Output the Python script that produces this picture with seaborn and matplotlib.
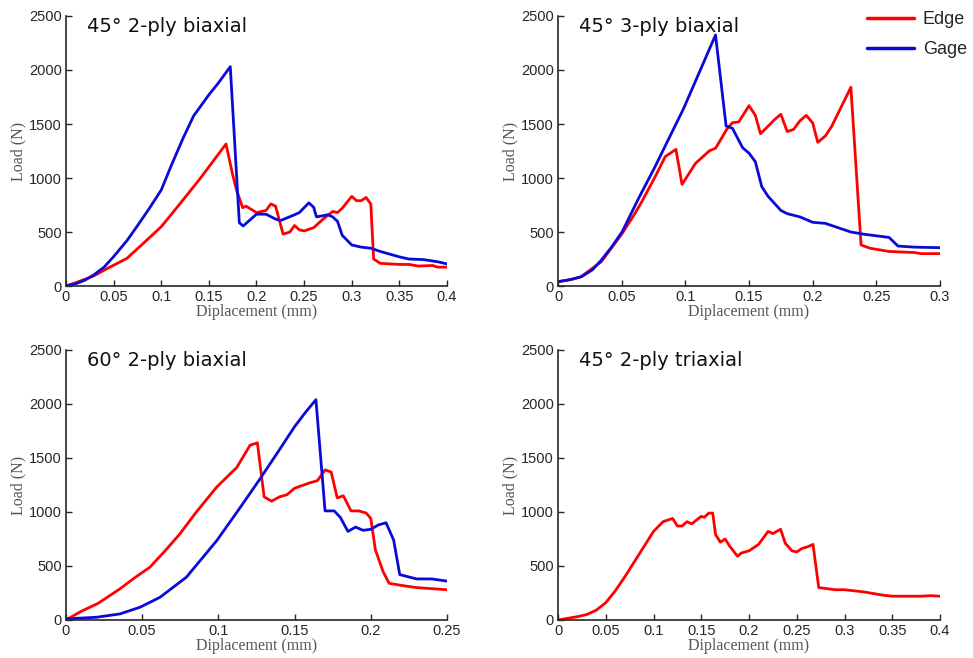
import seaborn as sns
import matplotlib.pyplot as plt
import pandas as pd

# 45 deg 2-ply biaxial
p1_edge_x = [0, 0.01, 0.029, 0.045, 0.064, 0.085, 0.1, 0.12, 0.141, 0.168, 0.175, 0.179, 0.1855, 0.189, 0.2,
             0.21, 0.215, 0.22, 0.228, 0.235, 0.24, 0.245, 0.25, 0.26, 0.27, 0.28, 0.285, 0.29, 0.3, 0.305,
             0.31, 0.315, 0.32, 0.323, 0.33, 0.35, 0.36, 0.37, 0.385, 0.39, 0.4]
p1_edge_y = [0, 30, 93, 170, 256, 426, 549, 765, 997, 1315, 1030, 889, 725, 740, 680,
             700, 760, 740, 480, 500, 560, 520, 510, 540, 620, 690, 680, 720, 830, 790,
             790, 820, 760, 250, 210, 200, 200, 185, 190, 175, 175]
p1_gage_x = [0, 0.01, 0.02, 0.029, 0.04, 0.05, 0.064, 0.074, 0.087, 0.1, 0.111, 0.123, 0.134, 0.15, 0.16,
             0.1725, 0.182, 0.186, 0.2, 0.21, 0.22, 0.225, 0.24, 0.245, 0.255, 0.26, 0.263, 0.275, 0.28,
             0.285, 0.29, 0.3, 0.31, 0.32, 0.33, 0.35, 0.36, 0.375, 0.39, 0.4]
p1_gage_y = [0, 20, 55, 102, 175, 272, 420, 545, 712, 889, 1125, 1370, 1575, 1770, 1880,
             2031, 586, 556, 665, 665, 620, 605, 660, 680, 770, 730, 640, 660, 640,
             600, 470, 380, 360, 350, 320, 270, 250, 245, 225, 205]

# 45 deg 3-ply biaxial
p2_edge_x = [0, 0.01, 0.018, 0.034, 0.0505, 0.0605, 0.0658, 0.0763, 0.0842, 0.0926, 0.0974, 0.108, 0.119,
             0.1237, 0.133, 0.137, 0.142, 0.15, 0.155, 0.159, 0.165, 0.17, 0.175, 0.18, 0.185, 0.19,
             0.195, 0.2, 0.204, 0.21, 0.215, 0.23, 0.238, 0.245, 0.25, 0.26, 0.28, 0.285, 0.3]
p2_edge_y = [40, 60, 86, 225, 488, 673, 781, 1012, 1198, 1265, 941, 1136, 1253,
             1275, 1460, 1512, 1520, 1670, 1580, 1410, 1480, 1540, 1590, 1430, 1450, 1530,
             1580, 1510, 1330, 1390, 1480, 1840, 380, 350, 340, 320, 310, 300, 300]
p2_gage_x = [0, 0.01, 0.0184, 0.027, 0.034, 0.042, 0.0505, 0.063, 0.076, 0.0987, 0.1237, 0.132, 0.137,
             0.145, 0.15, 0.155, 0.16, 0.165, 0.175, 0.18, 0.19, 0.2, 0.21, 0.22, 0.23, 0.24, 0.26,
             0.267, 0.28, 0.3]
p2_gage_y = [40, 60, 86, 150, 240, 360, 505, 805, 1100, 1645, 2324, 1481, 1460,
             1280, 1230, 1150, 920, 830, 700, 670, 640, 590, 580, 540, 500, 480, 450,
             370, 360, 355]

# 60 deg 2-ply biaxial
p3_edge_x = [0, 0.01, 0.0212, 0.0354, 0.045, 0.0551, 0.065, 0.0748, 0.085, 0.0989, 0.112, 0.1208, 0.1256,
             0.13, 0.135, 0.14, 0.145, 0.15, 0.16, 0.165, 0.17, 0.174, 0.178, 0.182, 0.187, 0.192,
             0.197, 0.2, 0.203, 0.208, 0.212, 0.22, 0.23, 0.25]
p3_edge_y = [0, 80, 155, 288, 390, 489, 640, 798, 990, 1231, 1411, 1618, 1640,
             1140, 1100, 1140, 1160, 1220, 1270, 1290, 1390, 1370, 1130, 1150, 1010, 1010,
             990, 940, 650, 450, 340, 320, 300, 280]
p3_gage_x = [0, 0.02, 0.0354, 0.0486, 0.0617, 0.079, 0.099, 0.114, 0.127, 0.14, 0.15, 0.157, 0.164,
             0.17, 0.176, 0.18, 0.185, 0.19, 0.195, 0.2, 0.205, 0.21, 0.215, 0.219, 0.23, 0.24, 0.25]
p3_gage_y = [10, 25, 56, 118, 210, 396, 736, 1035, 1300, 1575, 1790, 1920, 2040,
             1010, 1010, 950, 820, 860, 830, 840, 880, 900, 740, 420, 380, 380, 360]

# 45 deg 2-ply triaxial
p4_edge_x = [0, 0.02, 0.03, 0.04, 0.05, 0.06, 0.07, 0.08, 0.09, 0.1, 0.11, 0.12, 0.125, 0.13, 0.135,
             0.14, 0.15, 0.153, 0.158, 0.162, 0.165, 0.17, 0.175, 0.18, 0.188, 0.192, 0.2, 0.21, 0.22,
             0.225, 0.233, 0.238, 0.245, 0.25, 0.255, 0.262, 0.267, 0.273, 0.29, 0.3, 0.32, 0.34,
             0.35, 0.38, 0.39, 0.4]
p4_edge_y = [0, 30, 50, 90, 160, 270, 400, 540, 680, 820, 910, 940, 870, 870, 910,
             890, 960, 950, 990, 990, 790, 720, 750, 680, 590, 620, 640, 700, 820,
             800, 840, 710, 640, 630, 660, 680, 700, 300, 280, 280, 260, 230,
             220, 220, 225, 220]

titles = ["45° 2-ply biaxial", "45° 3-ply biaxial", "60° 2-ply biaxial", "45° 2-ply triaxial"]
xmax = [0.4, 0.3, 0.25, 0.4]
xticks = [
    [0, 0.05, 0.1, 0.15, 0.2, 0.25, 0.3, 0.35, 0.4],
    [0, 0.05, 0.1, 0.15, 0.2, 0.25, 0.3],
    [0, 0.05, 0.1, 0.15, 0.2, 0.25],
    [0, 0.05, 0.1, 0.15, 0.2, 0.25, 0.3, 0.35, 0.4],
]
xticklabels = [
    ["0", "0.05", "0.1", "0.15", "0.2", "0.25", "0.3", "0.35", "0.4"],
    ["0", "0.05", "0.1", "0.15", "0.2", "0.25", "0.3"],
    ["0", "0.05", "0.1", "0.15", "0.2", "0.25"],
    ["0", "0.05", "0.1", "0.15", "0.2", "0.25", "0.3", "0.35", "0.4"],
]
yticks = [0, 500, 1000, 1500, 2000, 2500]


def make_df(series):
    parts = []
    for name, xs, ys in series:
        parts.append(pd.DataFrame({"Displacement": xs, "Load": ys, "Region": name}))
    return pd.concat(parts, ignore_index=True)


panels = [
    make_df([("Edge", p1_edge_x, p1_edge_y), ("Gage", p1_gage_x, p1_gage_y)]),
    make_df([("Edge", p2_edge_x, p2_edge_y), ("Gage", p2_gage_x, p2_gage_y)]),
    make_df([("Edge", p3_edge_x, p3_edge_y), ("Gage", p3_gage_x, p3_gage_y)]),
    make_df([("Edge", p4_edge_x, p4_edge_y)]),
]

palette = {"Edge": "#ff0000", "Gage": "#0a0ad8"}

sns.set_theme(style="white")
plt.rcParams["font.family"] = ["Liberation Sans", "DejaVu Sans"]

fig = plt.figure(figsize=(9.73, 6.58), dpi=100)
rects = [
    [0.0678, 0.5653, 0.3916, 0.4104],
    [0.5735, 0.5653, 0.3926, 0.4104],
    [0.0678, 0.0578, 0.3916, 0.4103],
    [0.5735, 0.0578, 0.3926, 0.4103],
]

axes = []
for i, df in enumerate(panels):
    ax = fig.add_axes(rects[i])
    sns.lineplot(
        data=df,
        x="Displacement",
        y="Load",
        hue="Region",
        palette=palette,
        estimator=None,
        sort=False,
        linewidth=2,
        legend=(i == 1),
        ax=ax,
    )
    ax.set_xlim(0, xmax[i])
    ax.set_ylim(0, 2500)
    ax.set_xticks(xticks[i])
    ax.set_xticklabels(xticklabels[i])
    ax.set_yticks(yticks)
    sns.despine(ax=ax)
    for side in ["left", "bottom"]:
        ax.spines[side].set_color("#262626")
        ax.spines[side].set_linewidth(1.2)
    ax.tick_params(direction="in", length=4, width=1, color="#262626",
                   labelsize=10.5, labelcolor="#262626", pad=3, bottom=True, left=True)
    ax.set_xlabel("Diplacement (mm)", family="Liberation Serif", fontsize=11.5, color="#555555", labelpad=0)
    ax.set_ylabel("Load (N)", family="Liberation Serif", fontsize=11.5, color="#555555", labelpad=2)
    ax.text(0.055, 0.995, titles[i], transform=ax.transAxes, ha="left", va="top",
            family="DejaVu Sans", fontsize=14, color="#111111")
    axes.append(ax)

leg = axes[1].legend(title=None, loc="upper left", bbox_to_anchor=(0.766, 1.077), frameon=False,
                     fontsize=13, handlelength=2.6, handletextpad=0.5, labelspacing=0.7)
for line in leg.get_lines():
    line.set_linewidth(2.5)

fig.savefig("out.png", dpi=100)
plt.close()
